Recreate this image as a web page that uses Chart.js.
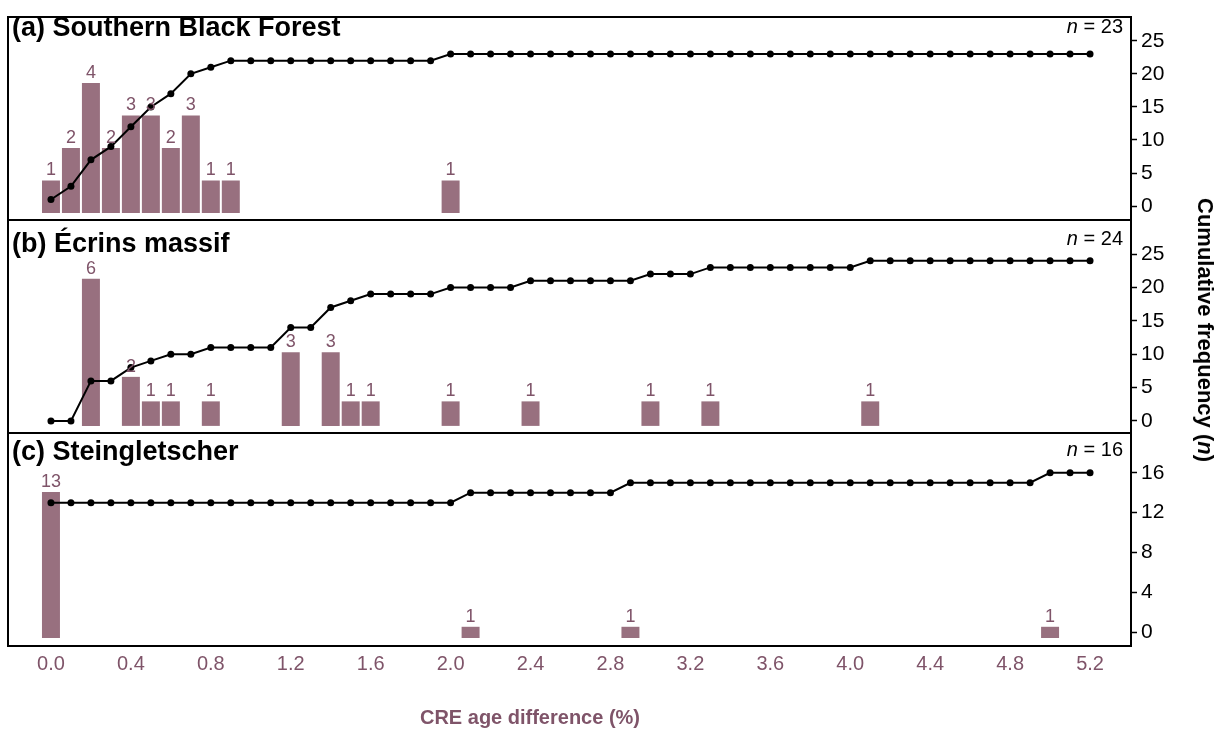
<!DOCTYPE html>
<html>
<head>
<meta charset="utf-8">
<script src="https://cdn.jsdelivr.net/npm/chart.js@4.4.0/dist/chart.umd.min.js"></script>
<style>
  html, body { margin: 0; padding: 0; background: #fff; }
  #wrap { position: relative; width: 1218px; height: 730px; overflow: hidden; }
  #wrap canvas { position: absolute; left: 0; }
  #ylab {
    position: absolute; left: 1205px; top: 330px;
    transform: translate(-50%, -50%) rotate(90deg);
    font: bold 22px 'Liberation Sans', Arial, sans-serif;
    white-space: nowrap; color: #000;
  }
  #xlab {
    position: absolute; left: 530px; top: 717px;
    transform: translate(-50%, -50%);
    font: bold 20px 'Liberation Sans', Arial, sans-serif;
    white-space: nowrap; color: #7f5469;
  }
</style>
</head>
<body>
<div id="wrap">
  <canvas id="chart-a" width="1218" height="222" style="top:0"></canvas>
  <canvas id="chart-b" width="1218" height="217" style="top:218px"></canvas>
  <canvas id="chart-c" width="1218" height="299" style="top:431px"></canvas>
  <div id="ylab">Cumulative frequency (<i>n</i>)</div>
  <div id="xlab">CRE age difference (%)</div>
</div>
<script>
// Histogram of CRE age differences + cumulative curve, three sites stacked

const FONT = "'Liberation Sans', Arial, sans-serif";
const MAUVE = '#98707f';
const MAUVE_TEXT = '#7f5469';

// ── Data ────────────────────────────────────────────

const binCentres = [
  0.0, 0.1, 0.2, 0.3, 0.4, 0.5, 0.6, 0.7, 0.8, 0.9,
  1.0, 1.1, 1.2, 1.3, 1.4, 1.5, 1.6, 1.7, 1.8, 1.9,
  2.0, 2.1, 2.2, 2.3, 2.4, 2.5, 2.6, 2.7, 2.8, 2.9,
  3.0, 3.1, 3.2, 3.3, 3.4, 3.5, 3.6, 3.7, 3.8, 3.9,
  4.0, 4.1, 4.2, 4.3, 4.4, 4.5, 4.6, 4.7, 4.8, 4.9,
  5.0, 5.1, 5.2,
];
const xTicks = [0.0, 0.4, 0.8, 1.2, 1.6, 2.0, 2.4, 2.8, 3.2, 3.6, 4.0, 4.4, 4.8, 5.2];

// (a) Southern Black Forest
const countsA = [
  1, 2, 4, 2, 3, 3, 2, 3, 1, 1,
  0, 0, 0, 0, 0, 0, 0, 0, 0, 0,
  1, 0, 0, 0, 0, 0, 0, 0, 0, 0,
  0, 0, 0, 0, 0, 0, 0, 0, 0, 0,
  0, 0, 0, 0, 0, 0, 0, 0, 0, 0,
  0, 0, 0,
];
const cumA = [
  1, 3, 7, 9, 12, 15, 17, 20, 21, 22,
  22, 22, 22, 22, 22, 22, 22, 22, 22, 22,
  23, 23, 23, 23, 23, 23, 23, 23, 23, 23,
  23, 23, 23, 23, 23, 23, 23, 23, 23, 23,
  23, 23, 23, 23, 23, 23, 23, 23, 23, 23,
  23, 23, 23,
];
const cumTicksA = [0, 5, 10, 15, 20, 25];

// (b) Écrins massif
const countsB = [
  0, 0, 6, 0, 2, 1, 1, 0, 1, 0,
  0, 0, 3, 0, 3, 1, 1, 0, 0, 0,
  1, 0, 0, 0, 1, 0, 0, 0, 0, 0,
  1, 0, 0, 1, 0, 0, 0, 0, 0, 0,
  0, 1, 0, 0, 0, 0, 0, 0, 0, 0,
  0, 0, 0,
];
const cumB = [
  0, 0, 6, 6, 8, 9, 10, 10, 11, 11,
  11, 11, 14, 14, 17, 18, 19, 19, 19, 19,
  20, 20, 20, 20, 21, 21, 21, 21, 21, 21,
  22, 22, 22, 23, 23, 23, 23, 23, 23, 23,
  23, 24, 24, 24, 24, 24, 24, 24, 24, 24,
  24, 24, 24,
];
const cumTicksB = [0, 5, 10, 15, 20, 25];

// (c) Steingletscher
const countsC = [
  13, 0, 0, 0, 0, 0, 0, 0, 0, 0,
  0, 0, 0, 0, 0, 0, 0, 0, 0, 0,
  0, 1, 0, 0, 0, 0, 0, 0, 0, 1,
  0, 0, 0, 0, 0, 0, 0, 0, 0, 0,
  0, 0, 0, 0, 0, 0, 0, 0, 0, 0,
  1, 0, 0,
];
const cumC = [
  13, 13, 13, 13, 13, 13, 13, 13, 13, 13,
  13, 13, 13, 13, 13, 13, 13, 13, 13, 13,
  13, 14, 14, 14, 14, 14, 14, 14, 14, 15,
  15, 15, 15, 15, 15, 15, 15, 15, 15, 15,
  15, 15, 15, 15, 15, 15, 15, 15, 15, 15,
  16, 16, 16,
];
const cumTicksC = [0, 4, 8, 12, 16];

// ── Panels ──────────────────────────────────────────

const panels = [
  { id: 'chart-a', title: '(a) Southern Black Forest', n: 23, counts: countsA, cum: cumA, cumTicks: cumTicksA,
    hist: [-0.215, 6.03], cumRange: [-2.1, 28.6], titleDy: 12, nDy: 10, pad: { top: 17, bottom: 2 }, showX: false },
  { id: 'chart-b', title: '(b) Écrins massif', n: 24, counts: countsB, cum: cumB, cumTicks: cumTicksB,
    hist: [-0.29, 8.4], cumRange: [-1.8, 30.1], titleDy: 25, nDy: 19, pad: { top: 2, bottom: 2 }, showX: false },
  { id: 'chart-c', title: '(c) Steingletscher', n: 16, counts: countsC, cum: cumC, cumTicks: cumTicksC,
    hist: [-0.71, 18.25], cumRange: [-1.4, 20.0], titleDy: 20, nDy: 17, pad: { top: 2, bottom: 0 }, showX: true },
];

// frame, panel title, n label and bar count labels
const panelDecor = {
  id: 'panelDecor',
  afterDatasetsDraw(chart, args, opts) {
    const { ctx, chartArea: a } = chart;
    ctx.save();

    const bars = chart.getDatasetMeta(1);
    const values = chart.data.datasets[1].data;
    ctx.fillStyle = MAUVE_TEXT;
    ctx.font = `18px ${FONT}`;
    ctx.textAlign = 'center';
    ctx.textBaseline = 'bottom';
    bars.data.forEach((bar, i) => {
      const v = values[i].y;
      if (v > 0) ctx.fillText(String(v), bar.x, bar.y - 1);
    });

    ctx.strokeStyle = '#000';
    ctx.lineWidth = 2;
    ctx.strokeRect(a.left, a.top, a.right - a.left, a.bottom - a.top);

    ctx.fillStyle = '#000';
    ctx.font = `bold 27px ${FONT}`;
    ctx.textAlign = 'left';
    ctx.textBaseline = 'middle';
    ctx.fillText(opts.title, a.left + 4, a.top + opts.titleDy);

    const rest = ' = ' + opts.n;
    const xr = a.right - 8;
    ctx.font = `20px ${FONT}`;
    ctx.textAlign = 'right';
    ctx.fillText(rest, xr, a.top + opts.nDy);
    const w = ctx.measureText(rest).width;
    ctx.font = `italic 20px ${FONT}`;
    ctx.fillText('n', xr - w, a.top + opts.nDy);

    ctx.restore();
  }
};

function makeChart(p) {
  return new Chart(document.getElementById(p.id), {
    type: 'bar',
    data: {
      datasets: [
        {
          type: 'line', order: 0,
          data: binCentres.map((x, i) => ({ x, y: p.cum[i] })),
          yAxisID: 'yc',
          borderColor: '#000', borderWidth: 2,
          pointRadius: 3.5, pointBackgroundColor: '#000', pointBorderWidth: 0,
          tension: 0,
        },
        {
          type: 'bar', order: 1,
          data: binCentres.map((x, i) => ({ x, y: p.counts[i] })),
          yAxisID: 'yh',
          backgroundColor: MAUVE, borderWidth: 0,
          categoryPercentage: 1, barPercentage: 0.9,
        },
      ]
    },
    options: {
      responsive: false,
      animation: false,
      layout: { autoPadding: false, padding: { left: 8, right: 0, top: p.pad.top, bottom: p.pad.bottom } },
      plugins: {
        legend: { display: false },
        tooltip: { enabled: false },
        panelDecor: { title: p.title, n: p.n, titleDy: p.titleDy, nDy: p.nDy },
      },
      scales: {
        x: {
          type: 'linear', min: -0.215, max: 5.405, offset: false,
          display: p.showX,
          afterBuildTicks: s => { s.ticks = xTicks.map(v => ({ value: v })); },
          afterFit: s => { s.height = p.showX ? 84 : 0; },
          grid: { display: false, drawTicks: false, offset: false },
          border: { display: false },
          ticks: {
            color: MAUVE_TEXT, font: { family: FONT, size: 20 }, padding: 6,
            maxRotation: 0, autoSkip: false, callback: v => Number(v).toFixed(1),
          },
        },
        yh: { type: 'linear', display: false, min: p.hist[0], max: p.hist[1] },
        yc: {
          type: 'linear', position: 'right', min: p.cumRange[0], max: p.cumRange[1],
          afterBuildTicks: s => { s.ticks = p.cumTicks.map(v => ({ value: v })); },
          // fixed axis width; tick labels sit inside the range so no extra padding
          afterFit: s => { s.width = 87; s.paddingTop = 0; s.paddingBottom = 0; },
          grid: { drawOnChartArea: false, drawTicks: true, tickLength: 6, tickColor: '#000', tickWidth: 1.5 },
          border: { display: false },
          ticks: { color: '#000', font: { family: FONT, size: 21 }, padding: 4, autoSkip: false, callback: v => String(v) },
        },
      }
    },
    plugins: [panelDecor]
  });
}

panels.forEach(makeChart);
</script>
</body>
</html>
